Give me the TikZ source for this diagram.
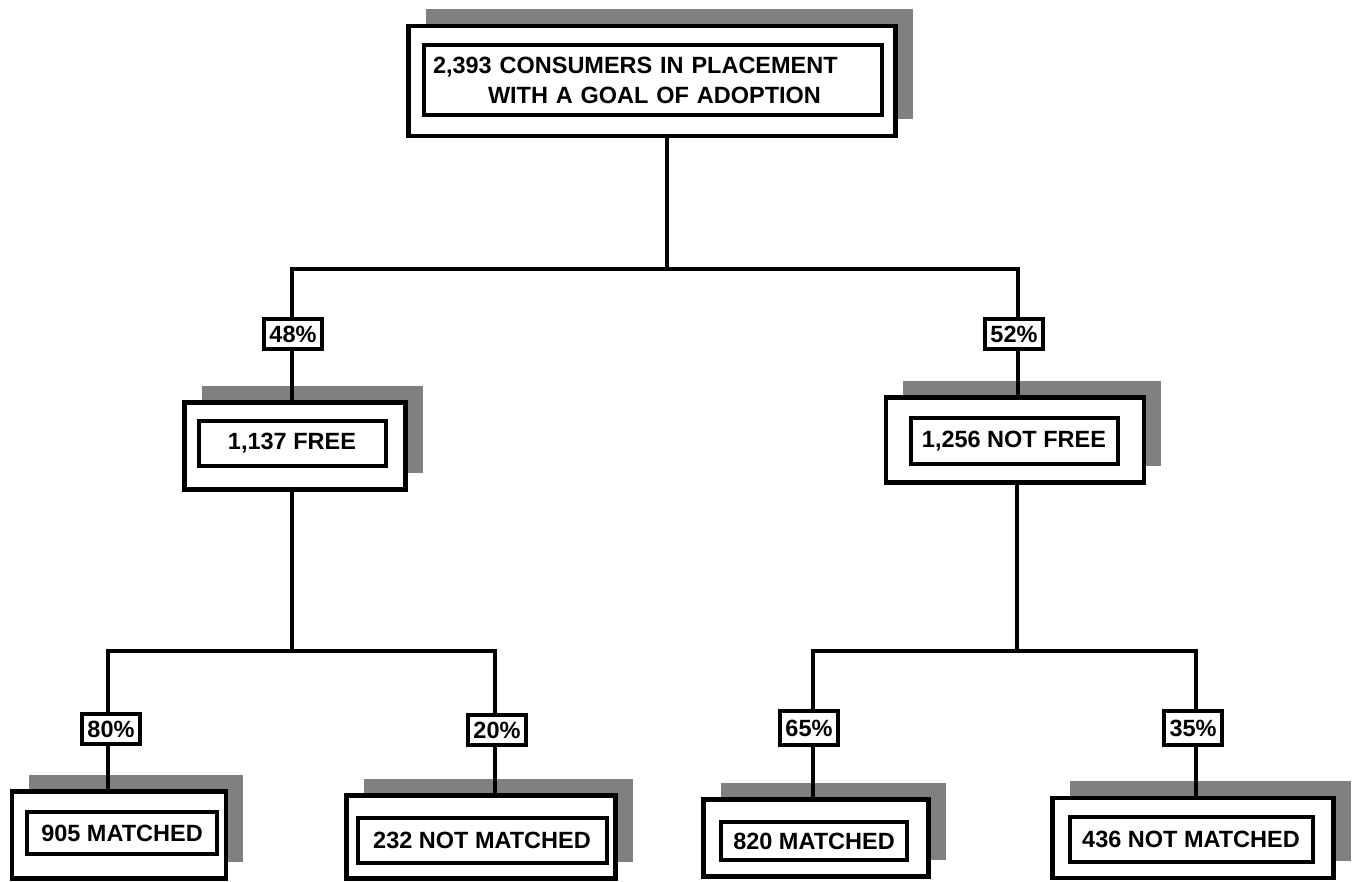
\documentclass[tikz,border=0pt]{standalone}
\usepackage{fontspec}
\setmainfont{Liberation Sans}
\usepackage{tikz}
\usetikzlibrary{shadows}
\newcommand{\boxfont}{\fontsize{23.5}{30}\selectfont\bfseries}
\tikzset{
  outerbox/.style={ draw, line width=4.5pt, fill=white, inner sep=0pt,
    drop shadow={shadow xshift=17pt, shadow yshift=17pt, opacity=1, fill=black!50} }
}
\tikzset{
  innerbox/.style={ draw, line width=4pt, inner sep=0pt, font=\boxfont }
}
\tikzset{
  pctbox/.style={ draw, line width=3.5pt, fill=white, inner sep=0pt,
    minimum width=58pt, minimum height=30pt, font=\boxfont }
}
\tikzset{
  link/.style={ line width=4.5pt }
}

\begin{document}
\begin{tikzpicture}[x=1pt, y=-1pt]
      \useasboundingbox (0,0) rectangle (1356,882);

      \node[outerbox, minimum width=487pt, minimum height=110pt] (total) at (652, 81) {};
      \node[innerbox, text width=440pt, inner xsep=9pt, minimum height=70pt, align=left] (totalIn) at (653, 80)
        {2,393 CONSUMERS IN PLACEMENT\\ \hspace*{55pt}WITH A GOAL OF ADOPTION};

      \node[outerbox, minimum width=221pt, minimum height=87pt] (free) at (295, 446) {};
      \node[innerbox, minimum width=187pt, minimum height=45pt] (freeIn) at (292, 443) {1,137 FREE};

      \node[outerbox, minimum width=258pt, minimum height=85pt] (notfree) at (1015, 440) {};
      \node[innerbox, minimum width=207pt, minimum height=46pt] (notfreeIn) at (1014, 441) {1,256 NOT FREE};

      \node[outerbox, minimum width=214pt, minimum height=87pt] (m905) at (119, 835) {};
      \node[innerbox, minimum width=190pt, minimum height=42pt] (m905In) at (122, 833) {905 MATCHED};

      \node[outerbox, minimum width=269pt, minimum height=83pt] (n232) at (481, 837) {};
      \node[innerbox, minimum width=249pt, minimum height=45pt] (n232In) at (482, 840) {232 NOT MATCHED};

      \node[outerbox, minimum width=225pt, minimum height=77pt] (m820) at (816, 838) {};
      \node[innerbox, minimum width=186pt, minimum height=38pt] (m820In) at (814, 841) {820 MATCHED};

      \node[outerbox, minimum width=281pt, minimum height=80pt] (n436) at (1193, 838) {};
      \node[innerbox, minimum width=243pt, minimum height=45pt] (n436In) at (1191, 839) {436 NOT MATCHED};

      % branch points
      \coordinate (j0) at (667, 269);
      \coordinate (jl) at (292, 269);
      \coordinate (jr) at (1018, 269);
      \coordinate (jf) at (292, 651);
      \coordinate (jfl) at (108, 651);
      \coordinate (jfr) at (495, 651);
      \coordinate (jn) at (1017, 651);
      \coordinate (jnl) at (813, 651);
      \coordinate (jnr) at (1196, 651);

      \draw[link] (total.south -| j0) -- (j0);
      \draw[link] (free.north -| jl) |- (jr) -- (notfree.north -| jr);

      \draw[link] (free.south -| jf) -- (jf);
      \draw[link] (m905.north -| jfl) |- (jfr) -- (n232.north -| jfr);

      \draw[link] (notfree.south -| jn) -- (jn);
      \draw[link] (m820.north -| jnl) |- (jnr) -- (n436.north -| jnr);

      % shares
      \node[pctbox] (p48) at (293, 334) {48\%};
      \node[pctbox] (p52) at (1014, 334) {52\%};
      \node[pctbox] (p80) at (111, 729) {80\%};
      \node[pctbox] (p20) at (497, 730) {20\%};
      \node[pctbox, minimum height=34pt] (p65) at (809, 728) {65\%};
      \node[pctbox, minimum height=34pt] (p35) at (1193, 728) {35\%};
    \end{tikzpicture}
\end{document}
